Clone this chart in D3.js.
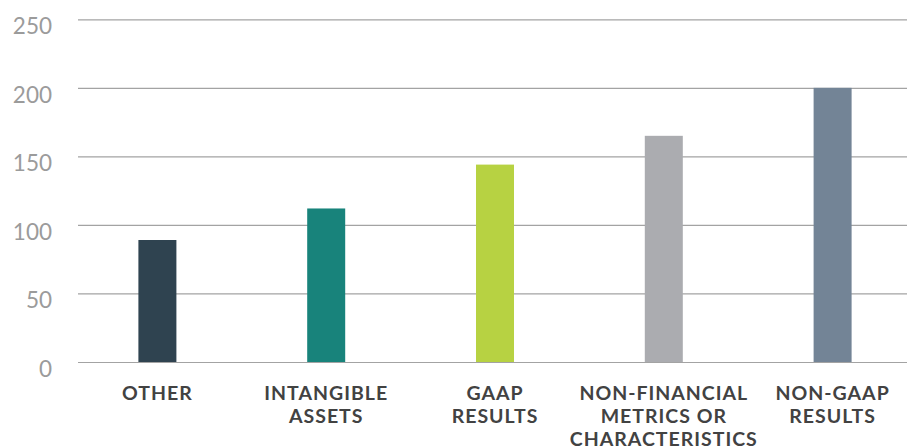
<!DOCTYPE html>
<html>
<head>
<meta charset="utf-8">
<script src="https://cdn.jsdelivr.net/npm/d3@7"></script>
<style>
  html, body { margin: 0; padding: 0; background: #ffffff; }
  svg { display: block; }
</style>
</head>
<body>
<svg id="chart" width="907" height="448"></svg>
<script>
const categories = ["OTHER", "INTANGIBLE ASSETS", "GAAP RESULTS", "NON-FINANCIAL METRICS OR CHARACTERISTICS", "NON-GAAP RESULTS"];
const labelLines = [["OTHER"], ["INTANGIBLE", "ASSETS"], ["GAAP", "RESULTS"], ["NON-FINANCIAL", "METRICS OR", "CHARACTERISTICS"], ["NON-GAAP", "RESULTS"]];
const values = [89, 112, 144, 165, 200];
const colors = ["#2f4350", "#18837b", "#b7d242", "#abacb0", "#738496"];
const yTicks = [0, 50, 100, 150, 200, 250];

const svg = d3.select("#chart");

const x = d3.scalePoint().domain(categories).range([73, 917]).padding(0.5);
const y = d3.scaleLinear().domain([0, 250]).range([362, 19.3]);

// gridlines via axis
const grid = svg.append("g")
  .attr("transform", "translate(78,0)")
  .call(d3.axisLeft(y).tickValues(yTicks).tickSize(-(907 - 78)).tickFormat(""));
grid.select(".domain").remove();
grid.selectAll(".tick line").attr("stroke", "#a3a3a3").attr("stroke-width", 1.2);

// y tick labels
const yAxis = svg.append("g")
  .attr("transform", "translate(52,0)")
  .call(d3.axisLeft(y).tickValues(yTicks).tickSize(0).tickPadding(0));
yAxis.select(".domain").remove();
yAxis.selectAll(".tick text")
  .attr("fill", "#9b9b9b")
  .attr("font-family", "Lato, 'Open Sans', sans-serif")
  .attr("font-weight", 400)
  .attr("font-size", 22.5)
  .attr("text-anchor", "end")
  .attr("dy", null)
  .attr("y", 14.5);

// bars
const barW = 38;
svg.append("g").selectAll("rect")
  .data(categories)
  .join("rect")
  .attr("x", d => x(d) - barW / 2)
  .attr("y", (d, i) => y(values[i]))
  .attr("width", barW)
  .attr("height", (d, i) => y(0) - y(values[i]))
  .attr("fill", (d, i) => colors[i]);

// category labels
const labels = svg.append("g").selectAll("text")
  .data(categories)
  .join("text")
  .attr("transform", d => `translate(${x(d)},0)`)
  .attr("text-anchor", "middle")
  .attr("font-family", "Lato, 'Open Sans', sans-serif")
  .attr("font-weight", 700)
  .attr("font-size", 19.5)
  .attr("letter-spacing", 1)
  .attr("fill", "#424242");
labels.each(function(d, i) {
  d3.select(this).selectAll("tspan")
    .data(labelLines[i])
    .join("tspan")
    .attr("x", 0)
    .attr("y", (t, j) => 399.5 + j * 23)
    .text(t => t);
});
</script>
</body>
</html>
